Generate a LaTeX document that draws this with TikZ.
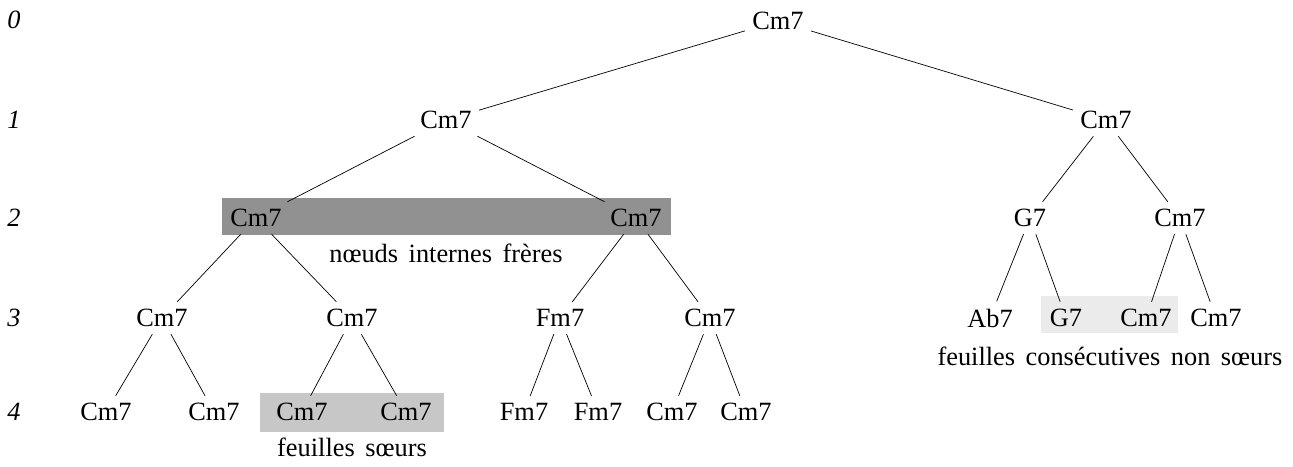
\documentclass[tikz,border=0pt]{standalone}
\usepackage{fontspec}
\setmainfont{Liberation Serif}
\usepackage{tikz}
\definecolor{darkband}{gray}{0.57}
\definecolor{midband}{gray}{0.78}
\definecolor{lightband}{gray}{0.92}
\newcommand{\widespace}{\spaceskip=0.4em\relax}

\begin{document}
\begin{tikzpicture}[x=0.02cm, y=-0.02cm, every node/.style={inner sep=4pt, font=\fontsize{15}{17}\selectfont},
    caption/.style={font=\fontsize{15}{17}\selectfont\widespace}]
    \useasboundingbox (0,0) rectangle (1293,466);

    % highlighted bands
    \fill[darkband] (222,198) rectangle (671,235);
    \fill[midband] (260,393) rectangle (444,432);
    \fill[lightband] (1041,296) rectangle (1178,333);

    % depth labels
    \foreach \d/\y in {0/20, 1/120, 2/218, 3/318, 4/412}
        \node (lvl\d) at (14,\y) {\textit{\d}};

    \node (n0) at (778,21) {Cm7};

    \node (n1a) at (446,120) {Cm7};
    \node (n1b) at (1106,120) {Cm7};

    \node (n2a) at (256,218) {Cm7};
    \node (n2b) at (636,218) {Cm7};
    \node (n2c) at (1030,218) {G7};
    \node (n2d) at (1180,218) {Cm7};

    \node (n3a) at (162,318) {Cm7};
    \node (n3b) at (352,318) {Cm7};
    \node (n3c) at (560,318) {Fm7};
    \node (n3d) at (710,318) {Cm7};
    \node (n3e) at (990,318) {Ab7};
    \node (n3f) at (1066,318) {G7};
    \node (n3g) at (1146,318) {Cm7};
    \node (n3h) at (1216,318) {Cm7};

    \node (n4a) at (106,412) {Cm7};
    \node (n4b) at (214,412) {Cm7};
    \node (n4c) at (302,412) {Cm7};
    \node (n4d) at (406,412) {Cm7};
    \node (n4e) at (524,412) {Fm7};
    \node (n4f) at (598,412) {Fm7};
    \node (n4g) at (672,412) {Cm7};
    \node (n4h) at (746,412) {Cm7};

    % captions
    \node[caption] (internes) at (446,253) {nœuds internes frères};
    \node[caption] (soeurs) at (352,447) {feuilles sœurs};
    \node[caption] (nonsoeurs) at (1110,356) {feuilles consécutives non sœurs};

    \foreach \p/\c in {n0/n1a, n0/n1b, n1a/n2a, n1a/n2b, n1b/n2c, n1b/n2d,
                       n2a/n3a, n2a/n3b, n2b/n3c, n2b/n3d, n2c/n3e, n2c/n3f, n2d/n3g, n2d/n3h,
                       n3a/n4a, n3a/n4b, n3b/n4c, n3b/n4d, n3c/n4e, n3c/n4f, n3d/n4g, n3d/n4h}
        \draw (\p) -- (\c);
\end{tikzpicture}
\end{document}
